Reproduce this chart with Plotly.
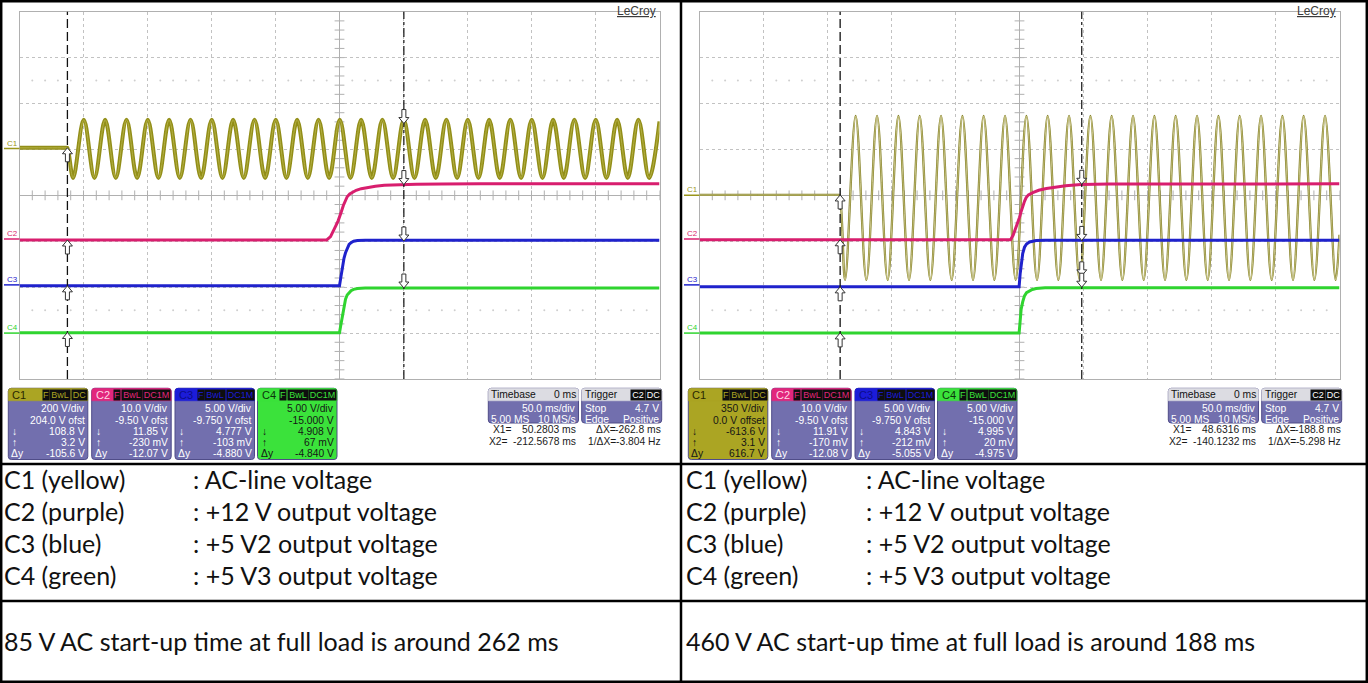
import plotly.graph_objects as go
import numpy as np

W, H = 1368, 683

# ====================== data ======================
TIME_RANGE = [-250, 250]          # ms (50 ms/div, trigger at centre)
CH_NAMES_SCOPE = ["C1", "C2", "C3", "C4"]

# channel settings (V/div, offset)
L_VDIV = [200.0, 10.0, 5.0, 5.0]
L_OFST = [204.0, -9.50, -9.750, -15.000]
R_VDIV = [350.0, 10.0, 5.0, 5.0]
R_OFST = [0.0, -9.50, -9.750, -15.000]

# C1 (AC line) - left screen (85 VAC)
L_C1_BASE_V = 3.0
L_C1_START_T = -212.6
L_C1_TROUGH_T = [-208.1, -191.4, -174.8, -158.1, -141.4, -124.8, -108.1, -91.4, -74.8,
                 -58.1, -41.4, -24.8, -8.1, 8.6, 25.2, 41.9, 58.6, 75.2, 91.9, 108.6,
                 125.2, 141.9, 158.6, 175.2, 191.9, 208.6, 225.2, 241.9]
L_C1_PEAK_T = [-199.8, -183.1, -166.4, -149.8, -133.1, -116.4, -99.8, -83.1, -66.4,
               -49.8, -33.1, -16.4, 0.2, 16.9, 33.5, 50.2, 66.9, 83.5, 100.2, 116.9,
               133.5, 150.2, 166.9, 183.5, 200.2, 216.9, 233.5]
L_C1_TROUGH_V = -128.0
L_C1_PEAK_V = 125.0
L_C1_END_V = 118.0

# C1 (AC line) - right screen (460 VAC)
R_C1_BASE_V = 3.1
R_C1_START_T = -140.6
R_C1_TROUGH_T = [-136.3, -119.6, -103.0, -86.3, -69.6, -53.0, -36.3, -19.6, -3.0, 13.7,
                 30.4, 47.0, 63.7, 80.4, 97.0, 113.7, 130.4, 147.0, 163.7, 180.4, 197.0,
                 213.7, 230.4, 247.0]
R_C1_PEAK_T = [-128.0, -111.3, -94.6, -78.0, -61.3, -44.6, -28.0, -11.3, 5.4, 22.0, 38.7,
               55.4, 72.0, 88.7, 105.4, 122.0, 138.7, 155.4, 172.0, 188.7, 205.4, 222.0,
               238.7]
R_C1_TROUGH_V = -645.0
R_C1_PEAK_V = 605.0
R_C1_END_V = -300.0

# output rails (time ms, volts)
L_C2_T = [-250, -10, -7, -5, -3, -1, 0, 1.5, 3, 4.5, 6, 8, 10, 13, 17, 22, 28, 35, 45,
          60, 80, 110, 250]
L_C2_V = [-0.2, -0.2, 0.5, 1.5, 2.8, 4.0, 4.7, 6.0, 7.3, 8.4, 9.2, 9.8, 10.2, 10.6, 10.95,
          11.25, 11.5, 11.7, 11.82, 11.9, 11.95, 12.0, 12.0]
L_C3_T = [-250, 0, 0.8, 1.6, 2.5, 3.5, 4.7, 6, 7.5, 9, 11, 14, 20, 250]
L_C3_V = [-0.1, -0.1, 0.6, 1.3, 2.1, 2.9, 3.5, 4.0, 4.4, 4.6, 4.75, 4.82, 4.85, 4.85]
L_C4_T = [-250, 0, 0.8, 1.6, 2.5, 3.5, 4.7, 6, 7.5, 9, 11, 14, 20, 250]
L_C4_V = [0.05, 0.05, 0.7, 1.4, 2.2, 3.0, 3.7, 4.15, 4.45, 4.62, 4.76, 4.85, 4.9, 4.9]

R_C2_T = [-250, -7, -5, -3, -1.5, 0, 1.3, 2.6, 3.9, 5.2, 7, 10.4, 15, 21, 28, 36, 48, 70, 250]
R_C2_V = [-0.17, -0.17, 0.8, 2.2, 3.5, 4.7, 6.0, 7.2, 8.2, 9.0, 9.6, 10.1, 10.6, 11.0,
          11.35, 11.6, 11.85, 11.95, 12.0]
R_C3_T = [-250, -0.3, 0.5, 1.3, 2.5, 3.9, 5.5, 7.8, 10, 13, 20, 250]
R_C3_V = [-0.2, -0.2, 1.2, 2.4, 3.4, 4.1, 4.45, 4.67, 4.77, 4.84, 4.86, 4.86]
R_C4_T = [-250, -0.3, 0.5, 1.3, 2.5, 3.9, 5.5, 7.8, 10, 13, 20, 250]
R_C4_V = [0.02, 0.02, 1.3, 2.6, 3.4, 4.05, 4.4, 4.6, 4.75, 4.86, 4.93, 4.95]

# cursors and readouts
L_X1, L_X2 = 50.2803, -212.5678
R_X1, R_X2 = 48.6316, -140.1232
L_DOWN_V = [108.8, 11.85, 4.777, 4.908]
L_UP_V = [3.2, -0.230, -0.103, 0.067]
R_DOWN_V = [-613.6, 11.91, 4.843, 4.995]
R_UP_V = [3.1, -0.170, -0.212, 0.020]
TRIG_LEVEL_V = 4.7

L_VDIV_TXT = ["200 V/div", "10.0 V/div", "5.00 V/div", "5.00 V/div"]
R_VDIV_TXT = ["350 V/div", "10.0 V/div", "5.00 V/div", "5.00 V/div"]
L_OFST_TXT = ["204.0 V ofst", "-9.50 V ofst", "-9.750 V ofst", "-15.000 V"]
R_OFST_TXT = ["0.0 V offset", "-9.50 V ofst", "-9.750 V ofst", "-15.000 V"]
L_DOWN_TXT = ["108.8 V", "11.85 V", "4.777 V", "4.908 V"]
L_UP_TXT = ["3.2 V", "-230 mV", "-103 mV", "67 mV"]
L_DY_TXT = ["-105.6 V", "-12.07 V", "-4.880 V", "-4.840 V"]
R_DOWN_TXT = ["-613.6 V", "11.91 V", "4.843 V", "4.995 V"]
R_UP_TXT = ["3.1 V", "-170 mV", "-212 mV", "20 mV"]
R_DY_TXT = ["616.7 V", "-12.08 V", "-5.055 V", "-4.975 V"]
COUPLING_TXT = ["DC", "DC1M", "DC1M", "DC1M"]
TIMEBASE_TXT = ["0 ms", "50.0 ms/div", "5.00 MS", "10 MS/s"]
TRIGGER_TXT = ["Stop", "4.7 V", "Edge", "Positive"]
L_CURSOR_TXT = ["50.2803 ms", "-212.5678 ms", "-262.8 ms", "-3.804 Hz"]
R_CURSOR_TXT = ["48.6316 ms", "-140.1232 ms", "-188.8 ms", "-5.298 Hz"]

TABLE_NAMES = ["C1 (yellow)", "C2 (purple)", "C3 (blue)", "C4 (green)"]
TABLE_DESC = [": AC-line voltage", ": +12 V output voltage",
              ": +5 V2 output voltage", ": +5 V3 output voltage"]
SUMMARY = ["85 V AC start-up time at full load is around 262 ms",
           "460 V AC start-up time at full load is around 188 ms"]

# ====================== styling ======================
CH_COL = ["#99951c", "#d81e6e", "#1f22cc", "#2fd42f"]
HDR_COL = ["#aba523", "#e2267c", "#1c1cd8", "#3be23b"]
HDR_TXT = ["#2a2800", "#ffd6e6", "#0c0c8a", "#0b360b"]
BODY_COL = "#726fae"
BOX_LINE = "#4f4c88"
UI_FONT = "Liberation Sans"
TABLE_FONT = "Lato"
UI_SIZE = 10.3


def P(x):
    return x / W


def Q(y):
    return 1 - y / H


shapes, anns = [], []


def T(x, y, s, size=UI_SIZE, color="white", anchor="left", family=UI_FONT, **kw):
    d = dict(xref="paper", yref="paper", x=P(x), y=Q(y), text=s, showarrow=False,
             xanchor=anchor, yanchor="middle",
             font=dict(family=family, size=size, color=color), borderpad=0)
    d.update(kw)
    anns.append(d)


def rpath(x0, y0, x1, y1, r, top=True, bottom=True):
    rt = r if top else 0
    rb = r if bottom else 0
    s = f"M{P(x0 + rt)},{Q(y0)} L{P(x1 - rt)},{Q(y0)} "
    s += f"Q{P(x1)},{Q(y0)} {P(x1)},{Q(y0 + rt)} "
    s += f"L{P(x1)},{Q(y1 - rb)} Q{P(x1)},{Q(y1)} {P(x1 - rb)},{Q(y1)} "
    s += f"L{P(x0 + rb)},{Q(y1)} Q{P(x0)},{Q(y1)} {P(x0)},{Q(y1 - rb)} "
    s += f"L{P(x0)},{Q(y0 + rt)} Q{P(x0)},{Q(y0)} {P(x0 + rt)},{Q(y0)} Z"
    return s


def box(x0, y0, x1, y1, fill, line=BOX_LINE, r=3, top=True, bottom=True, lw=1):
    shapes.append(dict(type="path", xref="paper", yref="paper",
                       path=rpath(x0, y0, x1, y1, r, top, bottom),
                       fillcolor=fill, line=dict(color=line, width=lw), layer="above"))


def tag(x_left, yc, s, w, color, bg="#0e0e0e"):
    anns.append(dict(xref="paper", yref="paper", x=P(x_left), y=Q(yc), text=s,
                     showarrow=False, xanchor="left", yanchor="middle", width=w, height=10,
                     bgcolor=bg, borderpad=0, align="center",
                     font=dict(family=UI_FONT, size=9, color=color)))


def c1_series(base_v, start_t, troughs, peaks, tv, pv, end_v):
    ext = sorted([(t, tv) for t in troughs] + [(t, pv) for t in peaks])
    t = [TIME_RANGE[0], start_t - 0.9, start_t] + [e[0] for e in ext] + [TIME_RANGE[1]]
    v = [base_v, base_v, base_v] + [e[1] for e in ext] + [end_v]
    return t, v


fig = go.Figure()
layout_axes = {}

GRID_X0, GRID_W = 19.5, 640.0
GRID_Y0, GRID_Y1 = 11.7, 379.0
OFFS = [0, 680]

screens = [
    dict(vdiv=L_VDIV, ofst=L_OFST,
         c1=c1_series(L_C1_BASE_V, L_C1_START_T, L_C1_TROUGH_T, L_C1_PEAK_T,
                      L_C1_TROUGH_V, L_C1_PEAK_V, L_C1_END_V),
         rails=[(L_C2_T, L_C2_V), (L_C3_T, L_C3_V), (L_C4_T, L_C4_V)],
         x1=L_X1, x2=L_X2, down=L_DOWN_V, up=L_UP_V,
         vtxt=L_VDIV_TXT, otxt=L_OFST_TXT, dtxt=L_DOWN_TXT, utxt=L_UP_TXT, ytxt=L_DY_TXT,
         ctxt=L_CURSOR_TXT, hi=3, c1style=dict(color="#928e18", width=4.0)),
    dict(vdiv=R_VDIV, ofst=R_OFST,
         c1=c1_series(R_C1_BASE_V, R_C1_START_T, R_C1_TROUGH_T, R_C1_PEAK_T,
                      R_C1_TROUGH_V, R_C1_PEAK_V, R_C1_END_V),
         rails=[(R_C2_T, R_C2_V), (R_C3_T, R_C3_V), (R_C4_T, R_C4_V)],
         x1=R_X1, x2=R_X2, down=R_DOWN_V, up=R_UP_V,
         vtxt=R_VDIV_TXT, otxt=R_OFST_TXT, dtxt=R_DOWN_TXT, utxt=R_UP_TXT, ytxt=R_DY_TXT,
         ctxt=R_CURSOR_TXT, hi=0, c1style=dict(color="#868228", width=2.3)),
]

UP_ARROW = "M0,0 L-5,-6 L-2,-6 L-2,-14 L2,-14 L2,-6 L5,-6 Z"
DOWN_ARROW = "M0,0 L-5,6 L-2,6 L-2,14 L2,14 L2,6 L5,6 Z"

for s, sc in enumerate(screens):
    off = OFFS[s]
    xid = "x" if s == 0 else "x2"
    gid = "y" if s == 0 else "y2"
    xkey = "xaxis" if s == 0 else "xaxis2"
    ykey = "yaxis" if s == 0 else "yaxis2"
    grid_style = dict(showgrid=True, gridcolor="#c2c2c2", griddash="dot", gridwidth=1,
                      showticklabels=False, ticks="", zeroline=True,
                      zerolinecolor="#b0b0b0", zerolinewidth=1, showline=True, mirror=True,
                      linecolor="#b0b0b0", linewidth=1, fixedrange=True)
    layout_axes[xkey] = dict(domain=[P(GRID_X0 + off), P(GRID_X0 + off + GRID_W)],
                             range=TIME_RANGE, dtick=50, tick0=0, anchor=gid, **grid_style)
    layout_axes[ykey] = dict(domain=[Q(GRID_Y1), Q(GRID_Y0)], range=[-4, 4], dtick=1,
                             tick0=0, anchor=xid, **grid_style)
    cids = []
    for i in range(4):
        cid = 3 + 4 * s + i
        cids.append(f"y{cid}")
        vd, of = sc["vdiv"][i], sc["ofst"][i]
        layout_axes[f"yaxis{cid}"] = dict(overlaying=gid, anchor=xid, visible=False,
                                          range=[-4 * vd - of, 4 * vd - of], fixedrange=True)

    # decorations: centre ticks and faint dotted rows
    yt = np.arange(-4, 4.001, 0.2)
    fig.add_trace(go.Scatter(x=np.zeros_like(yt), y=yt, xaxis=xid, yaxis=gid, mode="markers",
                             marker=dict(symbol="line-ew", size=7,
                                         line=dict(color="#b0b0b0", width=1)),
                             hoverinfo="skip"))
    xt = np.arange(-250, 250.001, 10)
    fig.add_trace(go.Scatter(x=xt, y=np.zeros_like(xt), xaxis=xid, yaxis=gid, mode="markers",
                             marker=dict(symbol="line-ns", size=7,
                                         line=dict(color="#b0b0b0", width=1)),
                             hoverinfo="skip"))
    xd = np.array([v for v in np.arange(-250, 250.001, 10) if v % 50 != 0])
    for yy in (2.5, -2.5):
        fig.add_trace(go.Scatter(x=xd, y=np.full_like(xd, yy), xaxis=xid, yaxis=gid,
                                 mode="markers", marker=dict(size=2, color="#cfcfcf"),
                                 hoverinfo="skip"))

    # traces
    t1, v1 = sc["c1"]
    fig.add_trace(go.Scatter(x=t1, y=v1, xaxis=xid, yaxis=cids[0], mode="lines",
                             line=dict(shape="spline", smoothing=1.0, **sc["c1style"]),
                             hoverinfo="skip"))
    inner = ("#e2deac", 0.7) if s == 1 else ("#b4b044", 1.0)
    fig.add_trace(go.Scatter(x=t1, y=v1, xaxis=xid, yaxis=cids[0], mode="lines",
                             line=dict(shape="spline", smoothing=1.0, color=inner[0],
                                       width=inner[1]),
                             hoverinfo="skip"))
    for i, (tt, vv) in enumerate(sc["rails"]):
        fig.add_trace(go.Scatter(x=tt, y=vv, xaxis=xid, yaxis=cids[i + 1], mode="lines",
                                 line=dict(shape="linear", color=CH_COL[i + 1], width=3),
                                 hoverinfo="skip"))

    # trigger markers
    fig.add_trace(go.Scatter(x=[0], y=[-4.1], xaxis=xid, yaxis=gid, mode="markers",
                             cliponaxis=False,
                             marker=dict(symbol="triangle-up", size=7, color=CH_COL[1]),
                             hoverinfo="skip"))
    fig.add_trace(go.Scatter(x=[254], y=[TRIG_LEVEL_V], xaxis=xid, yaxis=cids[1],
                             mode="markers", cliponaxis=False,
                             marker=dict(symbol="triangle-left", size=7, color=CH_COL[1]),
                             hoverinfo="skip"))

    # cursors
    shapes.append(dict(type="line", xref=xid, yref="paper", x0=sc["x2"], x1=sc["x2"],
                       y0=Q(GRID_Y1), y1=Q(GRID_Y0),
                       line=dict(color="#111", width=1.3, dash="9px,4px")))
    shapes.append(dict(type="line", xref=xid, yref="paper", x0=sc["x1"], x1=sc["x1"],
                       y0=Q(GRID_Y1), y1=Q(GRID_Y0),
                       line=dict(color="#111", width=1.2, dash="dashdot")))
    for i in range(4):
        shapes.append(dict(type="path", xref=xid, yref=cids[i], xsizemode="pixel",
                           ysizemode="pixel", xanchor=sc["x2"], yanchor=sc["up"][i],
                           path=UP_ARROW, fillcolor="white",
                           line=dict(color="#333", width=1), layer="above"))
        shapes.append(dict(type="path", xref=xid, yref=cids[i], xsizemode="pixel",
                           ysizemode="pixel", xanchor=sc["x1"], yanchor=sc["down"][i],
                           path=DOWN_ARROW, fillcolor="white",
                           line=dict(color="#333", width=1), layer="above"))
        # ground markers
        shapes.append(dict(type="line", xref="paper", yref=cids[i], x0=P(4 + off),
                           x1=P(GRID_X0 + off), y0=0, y1=0,
                           line=dict(color=CH_COL[i], width=1.5)))
        anns.append(dict(xref="paper", yref=cids[i], x=P(6 + off), y=0,
                         text=CH_NAMES_SCOPE[i], showarrow=False, xanchor="left",
                         yanchor="bottom", borderpad=0,
                         font=dict(family=UI_FONT, size=8, color=CH_COL[i])))

    T(657 + off, 10.5, "<u>LeCroy</u>", size=12, color="#3b3b3b", anchor="right")

    # channel boxes
    bx0 = [8.3, 91.7, 175.0, 257.5]
    by0, by1, hh = 388.3, 459.5, 12.5
    rows = [408.3, 420.1, 431.5, 442.8, 453.8]
    for i in range(4):
        x0 = bx0[i] + off
        x1 = x0 + 79.5
        hi = (i == sc["hi"])
        body = HDR_COL[i] if hi else BODY_COL
        tc = "#151515" if hi else "white"
        box(x0, by0, x1, by1, body)
        box(x0, by0, x1, by0 + hh, HDR_COL[i], line=HDR_COL[i], bottom=False, lw=0.5)
        T(x0 + 3, by0 + hh / 2 + 0.3, CH_NAMES_SCOPE[i], size=11, color=HDR_TXT[i])
        # tags
        widths = [6, 20, 15 if COUPLING_TXT[i] == "DC" else 27]
        texts = ["F", "BwL", COUPLING_TXT[i]]
        xr = x1 - 2
        lefts = []
        for w in reversed(widths):
            lefts.insert(0, xr - w)
            xr = xr - w - 1.5
        for tx, w, xl in zip(texts, widths, lefts):
            tag(xl, by0 + hh / 2 + 0.3, tx, w, HDR_COL[i])
        T(x1 - 2, rows[0], sc["vtxt"][i], color=tc, anchor="right")
        T(x1 - 2, rows[1], sc["otxt"][i], color=tc, anchor="right")
        T(x1 - 2, rows[2], sc["dtxt"][i], color=tc, anchor="right")
        T(x1 - 2, rows[3], sc["utxt"][i], color=tc, anchor="right")
        T(x1 - 2, rows[4], sc["ytxt"][i], color=tc, anchor="right")
        T(x0 + 3, rows[2], "↓", color=tc)
        T(x0 + 3, rows[3], "↑", color=tc)
        T(x0 + 2, rows[4], "Δy", color=tc)

    # timebase / trigger boxes
    tb0, tb1 = 488.3 + off, 578.5 + off
    tr0, tr1 = 581.7 + off, 661.7 + off
    ty0, ty1 = 388.3, 423.0
    for a, b in ((tb0, tb1), (tr0, tr1)):
        box(a, ty0, b, ty1, BODY_COL)
        box(a, ty0, b, ty0 + hh, "#dcdce2", line="#dcdce2", bottom=False, lw=0.5)
    hy = ty0 + hh / 2 + 0.3
    T(tb0 + 2, hy, "Timebase", color="#111")
    T(tb1 - 2, hy, TIMEBASE_TXT[0], color="#111", anchor="right")
    T(tb1 - 2, 408.3, TIMEBASE_TXT[1], anchor="right")
    T(tb0 + 2, 419.3, TIMEBASE_TXT[2])
    T(tb1 - 2, 419.3, TIMEBASE_TXT[3], anchor="right")
    T(tr0 + 2, hy, "Trigger", color="#111")
    tag(tr1 - 32, hy, "C2", 14, "white")
    tag(tr1 - 17, hy, "DC", 15, "white")
    T(tr0 + 2, 408.3, TRIGGER_TXT[0])
    T(tr1 - 2, 408.3, TRIGGER_TXT[1], anchor="right")
    T(tr0 + 2, 419.3, TRIGGER_TXT[2])
    T(tr1 - 2, 419.3, TRIGGER_TXT[3], anchor="right")

    # cursor readouts
    T(491.5 + off, 429.5, "X1=", color="#1a1a1a")
    T(576.7 + off, 429.5, sc["ctxt"][0], color="#1a1a1a", anchor="right")
    T(616.7 + off, 429.5, "ΔX=", color="#1a1a1a", anchor="right")
    T(661.7 + off, 429.5, sc["ctxt"][2], color="#1a1a1a", anchor="right")
    T(488.3 + off, 441.8, "X2=", color="#1a1a1a")
    T(576.7 + off, 441.8, sc["ctxt"][1], color="#1a1a1a", anchor="right")
    T(616.7 + off, 441.8, "1/ΔX=", color="#1a1a1a", anchor="right")
    T(661.7 + off, 441.8, sc["ctxt"][3], color="#1a1a1a", anchor="right")

# ====================== table frame and text ======================
TL = dict(color="black", width=2.5)
shapes.append(dict(type="rect", xref="paper", yref="paper", x0=P(1.2), x1=P(1366.8),
                   y0=Q(681.8), y1=Q(1.2), line=dict(color="black", width=2.5),
                   fillcolor="rgba(0,0,0,0)", layer="above"))
shapes.append(dict(type="line", xref="paper", yref="paper", x0=P(681), x1=P(681),
                   y0=Q(0), y1=Q(683), line=TL, layer="above"))
for yy in (464.0, 601.0):
    shapes.append(dict(type="line", xref="paper", yref="paper", x0=P(0), x1=P(1368),
                       y0=Q(yy), y1=Q(yy), line=TL, layer="above"))

row_y = [479, 511, 543, 575]
col_x = [(3, 192), (685, 865)]
for c, (xa, xb) in enumerate(col_x):
    for r in range(4):
        T(xa, row_y[r], TABLE_NAMES[r], size=25, color="#111", family=TABLE_FONT)
        T(xb, row_y[r], TABLE_DESC[r], size=25, color="#111", family=TABLE_FONT)
    T(xa, 641, SUMMARY[c], size=25, color="#111", family=TABLE_FONT)

fig.update_layout(width=W, height=H, margin=dict(l=0, r=0, t=0, b=0),
                  paper_bgcolor="white", plot_bgcolor="white", showlegend=False,
                  shapes=shapes, annotations=anns, **layout_axes)

fig.write_html("out.html", config={"displayModeBar": False, "staticPlot": True},
               post_script="document.body.style.margin='0';"
                           "document.body.style.overflow='hidden';")
